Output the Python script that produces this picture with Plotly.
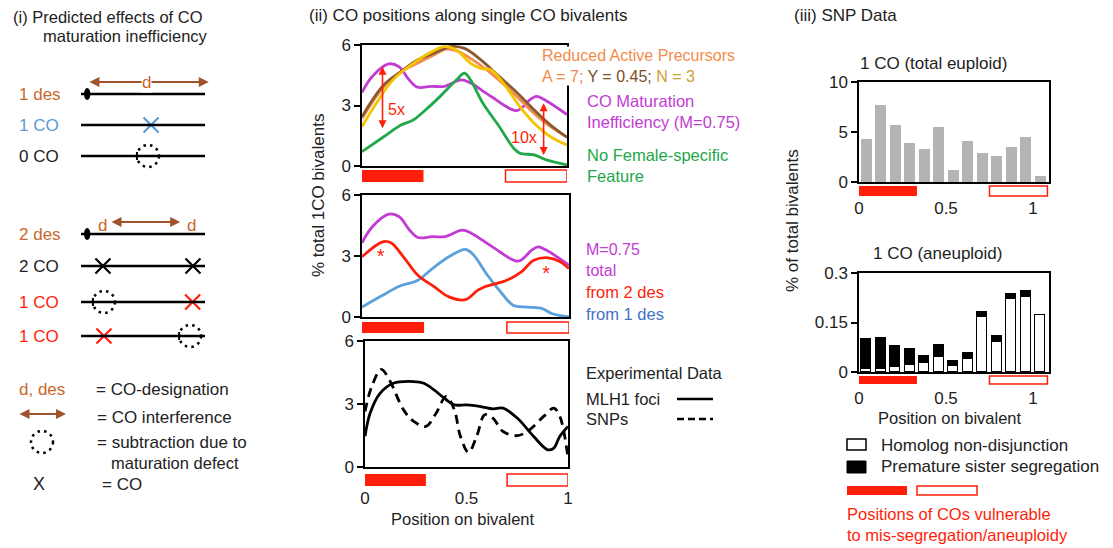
import plotly.graph_objects as go

W, H = 1113, 548
FONT = "Liberation Sans, Arial, sans-serif"
TXT = "#222222"
RED = "#ff1e0a"
ORANGE_T = "#c8692c"
BROWN_A = "#a0522d"
PURPLE = "#c23bd4"
GREEN = "#22a84a"

# ---------------- data ----------------
# (ii) top panel: simulated CO positions
mat_x = [0, 0.05, 0.13, 0.18, 0.23, 0.27, 0.34, 0.40, 0.485, 0.53, 0.63, 0.755, 0.82, 0.85, 0.89, 1.0]
mat_y = [3.65, 4.44, 5.06, 4.93, 4.27, 3.91, 3.95, 3.95, 4.27, 4.11, 3.45, 2.75, 3.29, 3.45, 3.29, 2.55]
redA_x = [0, 0.106, 0.19, 0.27, 0.35, 0.41, 0.46, 0.54, 0.64, 0.74, 0.84, 0.92, 1.0]
redA_y = [2.36, 3.93, 4.68, 5.09, 5.50, 5.79, 5.72, 5.26, 4.51, 3.60, 2.61, 1.95, 1.45]
redY_x = [0, 0.106, 0.19, 0.27, 0.35, 0.43, 0.50, 0.58, 0.67, 0.76, 0.84, 0.92, 1.0]
redY_y = [2.45, 4.02, 4.68, 5.26, 5.59, 5.92, 5.83, 5.26, 4.43, 3.60, 2.78, 2.03, 1.42]
redN_x = [0, 0.07, 0.15, 0.24, 0.32, 0.40, 0.46, 0.53, 0.58, 0.63, 0.69, 0.77, 0.84, 0.92, 1.0]
redN_y = [1.95, 3.11, 4.26, 5.01, 5.55, 5.92, 5.75, 5.09, 4.84, 4.76, 4.10, 2.94, 2.12, 1.45, 1.04]
nofem_x = [0, 0.106, 0.19, 0.25, 0.30, 0.38, 0.46, 0.50, 0.53, 0.59, 0.67, 0.74, 0.77, 0.84, 0.90, 1.0]
nofem_y = [0.71, 1.45, 2.03, 2.28, 2.69, 3.44, 4.26, 4.60, 4.26, 3.11, 1.95, 0.88, 0.63, 0.55, 0.30, 0.05]
fold_5x = [0.10, 1.87, 5.0]     # x, y-low, y-high
fold_10x = [0.886, 0.55, 3.19]

# (ii) middle panel
des2_x = [0, 0.10, 0.14, 0.20, 0.27, 0.35, 0.42, 0.50, 0.56, 0.60, 0.70, 0.77, 0.83, 0.90, 0.96, 1.0]
des2_y = [2.96, 3.70, 3.65, 2.96, 2.05, 1.48, 0.99, 0.85, 1.32, 1.51, 1.81, 2.22, 2.79, 2.91, 2.71, 2.38]
des1_x = [0, 0.10, 0.18, 0.27, 0.34, 0.42, 0.50, 0.54, 0.60, 0.67, 0.73, 0.80, 0.87, 0.92, 1.0]
des1_y = [0.49, 1.07, 1.51, 1.81, 2.38, 2.96, 3.32, 3.04, 2.14, 1.23, 0.58, 0.49, 0.41, 0.16, 0.0]
star_x = [0.09, 0.89]
star_y = [2.88, 2.05]

# (ii) bottom panel: experimental data
mlh1_x = [0, 0.025, 0.074, 0.14, 0.24, 0.29, 0.34, 0.39, 0.44, 0.50, 0.57, 0.63, 0.68, 0.75, 0.83, 0.90, 0.93, 0.96, 1.0]
mlh1_y = [1.46, 2.56, 3.51, 3.99, 4.07, 3.99, 3.67, 3.28, 2.96, 2.96, 2.88, 2.77, 2.80, 2.33, 1.46, 0.82, 0.90, 1.46, 1.93]
snp_x = [0, 0.033, 0.08, 0.12, 0.19, 0.24, 0.30, 0.35, 0.40, 0.44, 0.47, 0.51, 0.55, 0.59, 0.63, 0.68, 0.75, 0.81, 0.88, 0.93, 0.96, 1.0]
snp_y = [2.64, 3.83, 4.65, 4.15, 2.72, 2.17, 1.93, 2.56, 3.36, 2.72, 1.46, 0.70, 1.46, 2.49, 2.33, 1.69, 1.49, 1.77, 2.41, 2.80, 2.41, 0.43]

# (iii) SNP data, 13 bins of width 1/12
bin_centers = [(i + 0.5) / 12 for i in range(13)]
euploid = [4.3, 7.7, 5.7, 3.9, 3.3, 5.5, 1.2, 4.1, 2.9, 2.6, 3.5, 4.5, 0.6]
nondisjunction = [0.010, 0.008, 0.016, 0.021, 0.026, 0.044, 0.019, 0.038, 0.166, 0.092, 0.220, 0.226, 0.173]
premature_sister = [0.090, 0.096, 0.063, 0.048, 0.022, 0.039, 0.015, 0.021, 0.017, 0.017, 0.016, 0.019, 0.0]

# vulnerable CO positions
vuln_fill_ii = [0.0, 0.3]
vuln_open_ii = [0.7, 1.0]
vuln_fill_iii = [0.0, 0.333]
vuln_open_iii = [0.75, 1.083]

# (i) schematic: bivalents (positions as fraction along bivalent)
schem_labels = ["1 des", "1 CO", "0 CO", "2 des", "2 CO", "1 CO", "1 CO"]
schem_label_colors = [ORANGE_T, "#5b9bd5", TXT, ORANGE_T, TXT, RED, RED]
schem_des = {0: [0.05], 3: [0.05]}
schem_co = {1: ([0.565], "#5b9bd5"), 4: ([0.177, 0.903], "black"), 5: ([0.90], RED), 6: ([0.185], RED)}
schem_sub = {2: [0.54], 5: [0.185], 6: [0.88]}

# ---------------- layout helpers ----------------
def PX(x):
    return x / W

def PY(y):
    return 1 - y / H

# schematic axis mapping: bivalent 0..1 spans px 81..205
S0, SL = 81.0, 124.0
ROW_Y = [94, 125, 156, 234, 266, 302, 336]

fig = go.Figure()

def line(x, y, color, xa, ya, width=2.8, dash=None):
    fig.add_trace(go.Scatter(x=x, y=y, mode="lines", xaxis=xa, yaxis=ya,
                             line=dict(color=color, width=width, shape="spline", smoothing=1.0, dash=dash),
                             showlegend=False, hoverinfo="skip"))

# (ii) top
line(mat_x, mat_y, PURPLE, "x", "y")
line(nofem_x, nofem_y, GREEN, "x", "y")
line(redA_x, redA_y, "#f28c4a", "x", "y")
line(redY_x, redY_y, "#8c5a2e", "x", "y")
line(redN_x, redN_y, "#f5c400", "x", "y")
# (ii) middle
line(mat_x, mat_y, PURPLE, "x2", "y2")
line(des1_x, des1_y, "#5aa0dc", "x2", "y2")
line(des2_x, des2_y, RED, "x2", "y2")
fig.add_trace(go.Scatter(x=star_x, y=star_y, mode="text", text=["*", "*"], xaxis="x2", yaxis="y2",
                         textfont=dict(color=RED, size=20, family=FONT), showlegend=False, hoverinfo="skip"))
# (ii) bottom
line(mlh1_x, mlh1_y, "black", "x3", "y3")
line(snp_x, snp_y, "black", "x3", "y3", dash="9px,6px")

# (iii) bars
fig.add_trace(go.Bar(x=bin_centers, y=euploid, width=0.064, xaxis="x4", yaxis="y4",
                     marker=dict(color="#b4b4b4", line=dict(width=0)), showlegend=False, hoverinfo="skip"))
fig.add_trace(go.Bar(x=bin_centers, y=nondisjunction, width=0.058, xaxis="x5", yaxis="y5",
                     marker=dict(color="white", line=dict(color="black", width=1.5)), showlegend=False, hoverinfo="skip"))
fig.add_trace(go.Bar(x=bin_centers, y=premature_sister, width=0.058, xaxis="x5", yaxis="y5",
                     marker=dict(color="black", line=dict(color="black", width=1.5)), showlegend=False, hoverinfo="skip"))

# (i) schematic X marks
for r, (pos, col) in schem_co.items():
    fig.add_trace(go.Scatter(x=pos, y=[ROW_Y[r]] * len(pos), mode="markers", xaxis="x6", yaxis="y6",
                             marker=dict(symbol="x-thin", size=15, line=dict(color=col, width=2.2)),
                             showlegend=False, hoverinfo="skip"))

shapes = []
ann = []

def A(x, y, s, color=TXT, size=17, xanchor="left", yanchor="middle", **kw):
    d = dict(x=PX(x), y=PY(y), xref="paper", yref="paper", text=s, showarrow=False,
             xanchor=xanchor, yanchor=yanchor, borderpad=0, font=dict(family=FONT, size=size, color=color))
    d.update(kw)
    ann.append(d)

# red vulnerability bars under each position plot
for xa, (y0, y1), fill, opn in [("x", (170, 182), vuln_fill_ii, vuln_open_ii),
                                ("x2", (322, 333), vuln_fill_ii, vuln_open_ii),
                                ("x3", (474, 486), vuln_fill_ii, vuln_open_ii),
                                ("x4", (186, 196), vuln_fill_iii, vuln_open_iii),
                                ("x5", (376, 384), vuln_fill_iii, vuln_open_iii)]:
    shapes.append(dict(type="rect", xref=xa, yref="paper", x0=fill[0], x1=fill[1], y0=PY(y1), y1=PY(y0),
                       fillcolor=RED, line=dict(width=0)))
    shapes.append(dict(type="rect", xref=xa, yref="paper", x0=opn[0], x1=opn[1], y0=PY(y1), y1=PY(y0),
                       fillcolor="white", line=dict(color=RED, width=1.5)))

R = 11 / SL
for r, yv in enumerate(ROW_Y):
    shapes.append(dict(type="line", xref="x6", yref="y6", x0=0, x1=1, y0=yv, y1=yv,
                       line=dict(color="black", width=2.5)))
    ann.append(dict(x=-0.51, y=yv, xref="x6", yref="y6", text=schem_labels[r], showarrow=False,
                    xanchor="left", yanchor="middle", borderpad=0,
                    font=dict(family=FONT, size=17, color=schem_label_colors[r])))
for r, pos in schem_des.items():
    for f in pos:
        shapes.append(dict(type="circle", xref="x6", yref="y6", x0=f - 3.2 / SL, x1=f + 3.2 / SL,
                           y0=ROW_Y[r] - 6, y1=ROW_Y[r] + 6, fillcolor="black", line=dict(width=0)))
for r, pos in schem_sub.items():
    for f in pos:
        shapes.append(dict(type="circle", xref="x6", yref="y6", x0=f - R, x1=f + R,
                           y0=ROW_Y[r] - 11, y1=ROW_Y[r] + 11,
                           line=dict(color="black", width=2.5, dash="2.5px,4.2px")))
        shapes.append(dict(type="line", xref="x6", yref="y6", x0=f - R, x1=f - R,
                           y0=ROW_Y[r] - 4, y1=ROW_Y[r] + 4, line=dict(color="black", width=2)))

def brown_arrow(f0, f1, yv, xref="x6", yref="y6"):
    ann.append(dict(x=f1, y=yv, ax=f0, ay=yv, xref=xref, yref=yref, axref=xref, ayref=yref, text="",
                    showarrow=True, arrowhead=2, startarrowhead=2, arrowside="end+start",
                    arrowsize=1, startarrowsize=1, arrowwidth=2, arrowcolor=BROWN_A))

brown_arrow(0.056, 1.03, 82)
ann.append(dict(x=0.53, y=82, xref="x6", yref="y6", text="d", showarrow=False, bgcolor="white",
                borderpad=0, font=dict(family=FONT, size=17, color=ORANGE_T)))
brown_arrow(0.234, 0.80, 222)
for f in [0.17, 0.895]:
    ann.append(dict(x=f, y=225, xref="x6", yref="y6", text="d", showarrow=False,
                    font=dict(family=FONT, size=17, color=ORANGE_T)))

# (i) legend
A(18, 389, "d, des", color=ORANGE_T)
A(95, 389, "= CO-designation")
brown_arrow((18 - S0) / SL, (66 - S0) / SL, 414)
A(96, 417, "= CO interference")
shapes.append(dict(type="circle", xref="x6", yref="y6", x0=(42 - S0) / SL - R, x1=(42 - S0) / SL + R,
                   y0=442 - 11, y1=442 + 11, line=dict(color="black", width=2.5, dash="2.5px,4.2px")))
A(96, 442, "= subtraction due to")
A(110, 463, "maturation defect", size=16.5)
A(39, 484, "X", xanchor="center", size=18)
A(101, 484, "= CO")

# titles
A(12, 17, "(i) Predicted effects of CO", size=16.5)
A(209, 36, "maturation inefficiency", xanchor="right", size=16.5)
A(308, 16, "(ii) CO positions along single CO bivalents")
A(793, 16, "(iii) SNP Data")

# (ii) side labels
A(541, 66, "Reduced Active Precursors<br><span style='color:#f28c4a'>A = 7;</span> "
           "<span style='color:#7a4e2a'>Y = 0.45;</span> <span style='color:#c9a23a'>N = 3</span>",
  color="#f28c4a", size=16, bgcolor="white", align="left")
A(586, 112, "CO Maturation<br>Inefficiency (M=0.75)", color=PURPLE, size=16.5, align="left")
A(586, 165, "No Female-specific<br>Feature", color=GREEN, size=16.5, align="left")
A(585, 260, "M=0.75<br>total", color=PURPLE, size=16, align="left")
A(585, 292, "from 2 des", color=RED, size=16.5)
A(585, 314, "from 1 des", color="#4472c4", size=16.5)
A(585, 373, "Experimental Data", size=16.5)
A(585, 399, "MLH1 foci", size=16.5)
A(585, 419, "SNPs", size=16.5)
shapes.append(dict(type="line", xref="paper", yref="paper", x0=PX(677), x1=PX(713), y0=PY(399), y1=PY(399),
                   line=dict(color="black", width=2.5)))
shapes.append(dict(type="line", xref="paper", yref="paper", x0=PX(677), x1=PX(713), y0=PY(419), y1=PY(419),
                   line=dict(color="black", width=2.5, dash="7px,4px")))

# red fold-change arrows + labels
for xv, ylo, yhi in [fold_5x, fold_10x]:
    ann.append(dict(x=xv, y=ylo, ax=xv, ay=yhi, xref="x", yref="y", axref="x", ayref="y", text="",
                    showarrow=True, arrowhead=2, startarrowhead=2, arrowside="end+start",
                    arrowsize=1, startarrowsize=1, arrowwidth=1.6, arrowcolor=RED))
ann.append(dict(x=0.17, y=2.78, xref="x", yref="y", text="5x", showarrow=False, xanchor="center",
                font=dict(family=FONT, size=16, color=RED)))
ann.append(dict(x=0.79, y=1.42, xref="x", yref="y", text="10x", showarrow=False, xanchor="center",
                font=dict(family=FONT, size=16, color=RED)))

# axis titles
A(318, 196, "% total 1CO bivalents", xanchor="center", textangle=-90)
A(463, 519, "Position on bivalent", xanchor="center", size=16.5)
A(793, 221, "% of total bivalents", xanchor="center", textangle=-90)
A(950, 418, "Position on bivalent", xanchor="center", size=16.5)
A(933, 63, "1 CO (total euploid)", xanchor="center")
A(937, 253, "1 CO (aneuploid)", xanchor="center")

# (iii) legend
shapes.append(dict(type="rect", xref="paper", yref="paper", x0=PX(847), x1=PX(866), y0=PY(450), y1=PY(439),
                   fillcolor="white", line=dict(color="black", width=1.5)))
shapes.append(dict(type="rect", xref="paper", yref="paper", x0=PX(847), x1=PX(866), y0=PY(473), y1=PY(461),
                   fillcolor="black", line=dict(color="black", width=1)))
A(880, 445, "Homolog non-disjunction")
A(880, 466, "Premature sister segregation")
shapes.append(dict(type="rect", xref="paper", yref="paper", x0=PX(847), x1=PX(907), y0=PY(495), y1=PY(486),
                   fillcolor=RED, line=dict(width=0)))
shapes.append(dict(type="rect", xref="paper", yref="paper", x0=PX(917), x1=PX(977), y0=PY(495), y1=PY(486),
                   fillcolor="white", line=dict(color=RED, width=1.5)))
A(846, 524, "Positions of COs vulnerable<br>to mis-segregation/aneuploidy", color=RED, size=16.5, align="left")

# ---------------- axes ----------------
base = dict(showline=True, linecolor="black", linewidth=1.5, mirror=True, showgrid=False, zeroline=False,
            tickfont=dict(family=FONT, size=17, color=TXT), fixedrange=True, automargin=False)

def xax(x0, x1, rng, labels=False, standoff=0):
    d = dict(base, domain=[PX(x0), PX(x1)], range=rng, ticks="")
    if labels:
        d.update(tickvals=[0, 0.5, 1], ticktext=["0", "0.5", "1"], showticklabels=True,
                 ticklabelstandoff=standoff)
    else:
        d.update(showticklabels=False)
    return d

def yax(y_bottom, y_top, rng, vals, text, anchor):
    return dict(base, domain=[PY(y_bottom), PY(y_top)], range=rng, tickvals=vals, ticktext=text,
                ticks="outside", ticklen=6, tickwidth=1.5, tickcolor="black", anchor=anchor)

fig.update_layout(
    width=W, height=H, autosize=False,
    margin=dict(l=0, r=0, t=0, b=0, pad=0, autoexpand=False),
    paper_bgcolor="white", plot_bgcolor="rgba(0,0,0,0)",
    barmode="stack", bargap=0, showlegend=False,
    font=dict(family=FONT, size=17, color=TXT),
    xaxis=dict(xax(362, 567, [0, 1]), anchor="y"),
    yaxis=yax(166, 45, [0, 6], [0, 3, 6], ["0", "3", "6"], "x"),
    xaxis2=dict(xax(362, 569, [0, 1]), anchor="y2"),
    yaxis2=yax(317, 195, [0, 6], [0, 3, 6], ["0", "3", "6"], "x2"),
    xaxis3=dict(xax(365, 568, [0, 1], labels=True, standoff=15), anchor="y3"),
    yaxis3=yax(467, 341, [0, 6], [0, 3, 6], ["0", "3", "6"], "x3"),
    xaxis4=dict(xax(859, 1049, [0, 1.092], labels=True, standoff=10), anchor="y4"),
    yaxis4=yax(182, 82, [0, 10], [0, 5, 10], ["0", "5", "10"], "x4"),
    xaxis5=dict(xax(859, 1049, [0, 1.092], labels=True, standoff=10), anchor="y5"),
    yaxis5=yax(372, 273, [0, 0.3], [0, 0.15, 0.3], ["0", "0.15", "0.3"], "x5"),
    xaxis6=dict(domain=[0, PX(300)], range=[(0 - S0) / SL, (300 - S0) / SL], visible=False,
                fixedrange=True, anchor="y6"),
    yaxis6=dict(domain=[0, 1], range=[H, 0], visible=False, fixedrange=True, anchor="x6"),
    shapes=shapes,
    annotations=ann,
)

fig.write_html("out.html", config={"displayModeBar": False},
               post_script="document.body.style.margin='0px';document.body.style.overflow='hidden';")
